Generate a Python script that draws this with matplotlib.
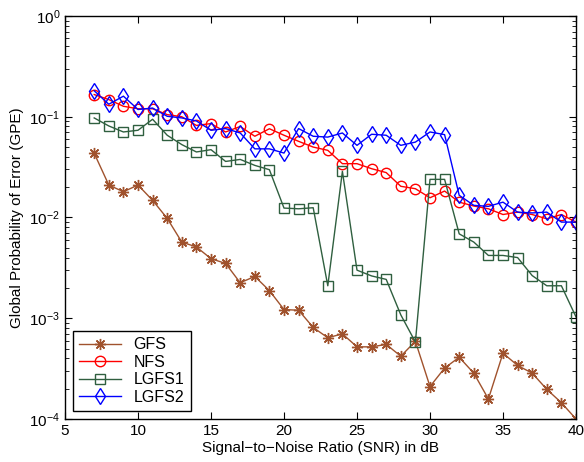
import matplotlib
matplotlib.use("Agg")
import matplotlib.pyplot as plt

plt.rcParams['font.family'] = ['Liberation Sans', 'DejaVu Sans']
plt.rcParams['mathtext.fontset'] = 'custom'
plt.rcParams['mathtext.rm'] = 'Liberation Sans'
plt.rcParams['mathtext.it'] = 'Liberation Sans:italic'

snr = list(range(7, 41))

gfs = [0.0434, 0.021, 0.018, 0.021, 0.0148, 0.0098, 0.0057, 0.0051, 0.0039, 0.0035,
       0.00225, 0.0026, 0.00188, 0.00122, 0.0012, 0.00081, 0.00064, 0.0007, 0.00052, 0.00052,
       0.00055, 0.00042, 0.00059, 0.00021, 0.00032, 0.00041, 0.000285, 0.000158, 0.00045, 0.00034,
       0.000285, 0.000197, 0.000145, 0.0001]
nfs = [0.166, 0.148, 0.127, 0.12, 0.12, 0.105, 0.1, 0.082, 0.0855, 0.0706,
       0.08, 0.064, 0.076, 0.0655, 0.057, 0.05, 0.0464, 0.0342, 0.0342, 0.0305,
       0.0279, 0.0204, 0.0193, 0.0157, 0.0183, 0.0142, 0.013, 0.0122, 0.0107, 0.0113,
       0.0107, 0.0097, 0.0107, 0.009]
lgfs1 = [0.0973, 0.081, 0.0706, 0.0734, 0.0944, 0.0655, 0.0529, 0.0447, 0.0471, 0.036,
         0.0377, 0.0329, 0.0298, 0.0124, 0.0122, 0.0125, 0.0021, 0.0287, 0.003, 0.00263,
         0.00243, 0.00108, 0.00058, 0.0239, 0.0239, 0.00688, 0.0057, 0.0042, 0.0042, 0.004,
         0.00265, 0.0021, 0.0021, 0.00103]
lgfs2 = [0.181, 0.133, 0.16, 0.118, 0.122, 0.101, 0.0973, 0.0908, 0.0734, 0.0763,
         0.069, 0.048, 0.048, 0.0436, 0.0763, 0.064, 0.0628, 0.069, 0.052, 0.067,
         0.0655, 0.052, 0.056, 0.0706, 0.0664, 0.0166, 0.0132, 0.0129, 0.0142, 0.0113,
         0.0111, 0.0113, 0.009, 0.009]

fig = plt.figure(figsize=(5.84, 4.62), dpi=100)
ax = fig.add_axes([0.1113, 0.0931, 0.875, 0.8723])

# matlab-like asterisk: 8 spokes
ax.plot(snr, gfs, color='#a0522d', marker=(8, 2, 0), markersize=8, lw=1, label='GFS')
ax.plot(snr, nfs, color='#ff0000', marker='o', markersize=7.5, mfc='none', lw=1, label='NFS')
ax.plot(snr, lgfs1, color='#2f5f3f', marker='s', markersize=6.5, mfc='none', lw=1, label='LGFS1')
ax.plot(snr, lgfs2, color='#0000ff', marker='d', markersize=8.5, mfc='none', lw=1, label='LGFS2')

ax.set_yscale('log')
ax.set_xlim(5, 40)
ax.set_ylim(1e-4, 1)
ax.set_xticks(range(5, 41, 5))
ax.tick_params(which='both', direction='in', top=True, right=True, labelsize=11)
ax.tick_params(which='major', length=5)
ax.tick_params(which='minor', length=3)
for s in ax.spines.values():
    s.set_linewidth(1)

ax.set_xlabel('Signal\u2212to\u2212Noise Ratio (SNR) in dB', fontsize=11, labelpad=2)
ax.set_ylabel('Global Probability of Error (GPE)', fontsize=11)

leg = ax.legend(loc='lower left', fontsize=11.5, fancybox=False, framealpha=1,
                edgecolor='black', borderaxespad=0.5, handlelength=2.6, labelspacing=0.15)
leg.get_frame().set_linewidth(1)

fig.savefig('out.png', dpi=100)
